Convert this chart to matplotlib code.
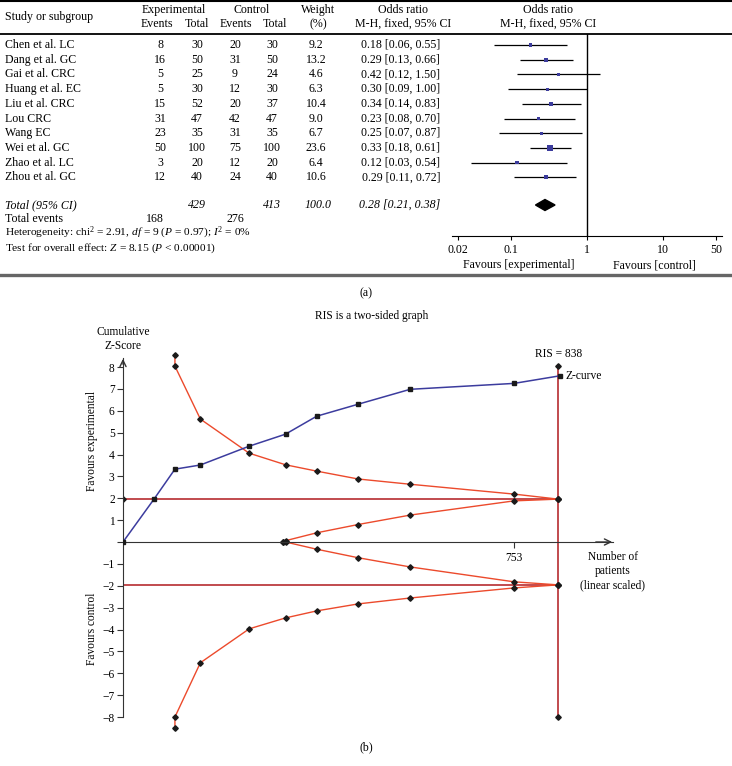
import numpy as np
import matplotlib
matplotlib.use('Agg')
import matplotlib.pyplot as plt
from matplotlib.patches import Polygon

plt.rcParams['font.family'] = ['Liberation Serif', 'DejaVu Serif']
plt.rcParams['mathtext.fontset'] = 'custom'
plt.rcParams['mathtext.rm'] = 'Liberation Serif'
plt.rcParams['mathtext.it'] = 'Liberation Serif:italic'

#%%# ------------------------ data (a) forest plot
studies = ['Chen et al. LC', 'Dang et al. GC', 'Gai et al. CRC', 'Huang et al. EC', 'Liu et al. CRC',
           'Lou CRC', 'Wang EC', 'Wei et al. GC', 'Zhao et al. LC', 'Zhou et al. GC']
exp_events = [8, 16, 5, 5, 15, 31, 23, 50, 3, 12]
exp_total = [30, 50, 25, 30, 52, 47, 35, 100, 20, 40]
ctl_events = [20, 31, 9, 12, 20, 42, 31, 75, 12, 24]
ctl_total = [30, 50, 24, 30, 37, 47, 35, 100, 20, 40]
weight = [9.2, 13.2, 4.6, 6.3, 10.4, 9.0, 6.7, 23.6, 6.4, 10.6]
odds = [0.18, 0.29, 0.42, 0.30, 0.34, 0.23, 0.25, 0.33, 0.12, 0.29]
ci_lo = [0.06, 0.13, 0.12, 0.09, 0.14, 0.08, 0.07, 0.18, 0.03, 0.11]
ci_hi = [0.55, 0.66, 1.50, 1.00, 0.83, 0.70, 0.87, 0.61, 0.54, 0.72]
pooled = [0.28, 0.21, 0.38]  # OR, lower, upper
or_ticks = [0.02, 0.1, 1, 10, 50]
or_ticklabels = ['0.02', '0.1', '1', '10', '50']

#%%# ------------------------ data (b) trial sequential analysis
cum_n = [0, 60, 100, 149, 243, 313, 373, 453, 553, 753, 842]
z_curve = [0, 1.97, 3.33, 3.52, 4.38, 4.93, 5.75, 6.30, 6.98, 7.25, 7.60]
bound_n = [100, 100, 149, 243, 313, 373, 453, 553, 753, 838]
upper_bound = [8.54, 8.04, 5.62, 4.06, 3.53, 3.24, 2.88, 2.64, 2.19, 1.96]
lower_bound = [-8.5, -8.0, -5.52, -3.97, -3.47, -3.15, -2.83, -2.56, -2.10, -1.96]
fut_n = [308, 313, 373, 453, 553, 753, 838]
fut_upper = [0.0, 0.06, 0.42, 0.80, 1.23, 1.88, 1.96]
fut_lower = [0.0, 0.0, -0.33, -0.72, -1.14, -1.82, -1.96]
ris = 838
z_crit = 1.96
ris_span = [8.04, -8.0]
z_ticks = list(range(-8, 9))

W, H = 732, 766
fig = plt.figure(figsize=(W / 100, H / 100), dpi=100)

def box(x0, y0, x1, y1):
    # pixel box -> figure fraction
    return [x0 / W, 1 - y1 / H, (x1 - x0) / W, (y1 - y0) / H]

# overlay for the table text and rules
ax0 = fig.add_axes([0, 0, 1, 1])
ax0.set_xlim(0, W)
ax0.set_ylim(H, 0)
ax0.axis('off')

fs = 8.6
fs2 = 8.3
ax0.plot([0, W], [1, 1], color='black', lw=1.5)
ax0.plot([0, W], [34, 34], color='black', lw=1.3)
ax0.plot([0, W], [275, 275], color='#666666', lw=2.4)

# header
ax0.text(5, 17, 'Study or subgroup', fontsize=fs, va='center')
ax0.text(174, 10, 'Experimental', fontsize=fs, va='center', ha='center')
ax0.text(157, 24, 'Events', fontsize=fs, va='center', ha='center')
ax0.text(197, 24, 'Total', fontsize=fs, va='center', ha='center')
ax0.text(252, 10, 'Control', fontsize=fs, va='center', ha='center')
ax0.text(236, 24, 'Events', fontsize=fs, va='center', ha='center')
ax0.text(275, 24, 'Total', fontsize=fs, va='center', ha='center')
ax0.text(318, 10, 'Weight', fontsize=fs, va='center', ha='center')
ax0.text(318, 24, '(%)', fontsize=fs, va='center', ha='center')
ax0.text(403, 10, 'Odds ratio', fontsize=fs, va='center', ha='center')
ax0.text(403, 24, 'M-H, fixed, 95% CI', fontsize=fs, va='center', ha='center')
ax0.text(548, 10, 'Odds ratio', fontsize=fs, va='center', ha='center')
ax0.text(548, 24, 'M-H, fixed, 95% CI', fontsize=fs, va='center', ha='center')

row_y = 45 + 14.7 * np.arange(len(studies))
tot_y = 205
for i, name in enumerate(studies):
    y = row_y[i]
    ax0.text(5, y, name, fontsize=fs, va='center')
    ax0.text(160, y, str(exp_events[i]), fontsize=fs, va='center', ha='center')
    ax0.text(197, y, str(exp_total[i]), fontsize=fs, va='center', ha='center')
    ax0.text(235, y, str(ctl_events[i]), fontsize=fs, va='center', ha='center')
    ax0.text(272, y, str(ctl_total[i]), fontsize=fs, va='center', ha='center')
    ax0.text(316, y, '%.1f' % weight[i], fontsize=fs, va='center', ha='center')
    ax0.text(440, y, '%.2f [%.2f, %.2f]' % (odds[i], ci_lo[i], ci_hi[i]), fontsize=fs, va='center', ha='right')

ax0.text(5, tot_y, 'Total (95% CI)', fontsize=fs, va='center', style='italic')
ax0.text(197, tot_y, str(sum(exp_total)), fontsize=fs, va='center', ha='center', style='italic')
ax0.text(272, tot_y, str(sum(ctl_total)), fontsize=fs, va='center', ha='center', style='italic')
ax0.text(318, tot_y, '%.1f' % sum(weight), fontsize=fs, va='center', ha='center', style='italic')
ax0.text(440, tot_y, '%.2f [%.2f, %.2f]' % tuple(pooled), fontsize=fs, va='center', ha='right', style='italic')
ax0.text(5, 219, 'Total events', fontsize=fs, va='center')
ax0.text(155, 219, str(sum(exp_events)), fontsize=fs, va='center', ha='center')
ax0.text(235, 219, str(sum(ctl_events)), fontsize=fs, va='center', ha='center')
ax0.text(5, 236, r'Heterogeneity: chi$^{2}$ = 2.91, $df$ = 9 ($P$ = 0.97); $I^{2}$ = 0%', fontsize=fs - 0.4, va='baseline')
ax0.text(5, 251, r'Test for overall effect: $Z$ = 8.15 ($P$ < 0.00001)', fontsize=fs - 0.4, va='baseline')
ax0.text(519, 265, 'Favours [experimental]', fontsize=fs, va='center', ha='center')
ax0.text(654, 265, 'Favours [control]', fontsize=fs, va='center', ha='center')
ax0.text(366, 293, '(a)', fontsize=fs, va='center', ha='center')

# forest plot
fa = fig.add_axes(box(452, 34, 722, 236))
fa.patch.set_alpha(0)
fa.set_xscale('log')
fa.set_xlim(10 ** ((452 - 587) / 76), 10 ** ((722 - 587) / 76))
fa.set_ylim(236, 34)
for s in ['top', 'left', 'right']:
    fa.spines[s].set_visible(False)
fa.set_yticks([])
fa.set_xticks(or_ticks)
fa.set_xticklabels(or_ticklabels)
fa.xaxis.set_minor_locator(matplotlib.ticker.NullLocator())
fa.tick_params(axis='x', direction='out', length=3, labelsize=fs, pad=3)
fa.axvline(1, color='black', lw=1)
fa.hlines(row_y, ci_lo, ci_hi, color='black', lw=0.9)
sizes = (np.sqrt(weight) * 1.2 * 0.72) ** 2
fa.scatter(odds, row_y, marker='s', s=sizes, color='#3b3b9c', zorder=3, linewidths=0)
fa.add_patch(Polygon([(pooled[1], tot_y), (pooled[0], tot_y - 5.5), (pooled[2], tot_y), (pooled[0], tot_y + 5.5)],
                     closed=True, color='black'))

#%%# ------------------------ (b) TSA graph
ax0.text(372, 316, 'RIS is a two-sided graph', fontsize=fs2, va='center', ha='center')
ax0.text(123, 332, 'Cumulative', fontsize=fs2, va='center', ha='center')
ax0.text(123, 346, 'Z-Score', fontsize=fs2, va='center', ha='center')
ax0.text(92, 441, 'Favours experimental', fontsize=fs2, va='center', ha='center', rotation=90)
ax0.text(92, 629, 'Favours control', fontsize=fs2, va='center', ha='center', rotation=90)
ax0.text(613, 557, 'Number of', fontsize=fs2, va='center', ha='center')
ax0.text(613, 571, 'patients', fontsize=fs2, va='center', ha='center')
ax0.text(613, 585, '(linear scaled)', fontsize=fs2, va='center', ha='center')
ax0.text(366, 747, '(b)', fontsize=fs, va='center', ha='center')

kx = 391 / 753.0   # px per patient
ky = 350 / 16.0    # px per z unit
ta = fig.add_axes(box(123, 350, 616, 735))
ta.patch.set_alpha(0)
ta.set_xlim(0, 493 / kx)
ta.set_ylim((542 - 735) / ky, (542 - 350) / ky)
axc = '#333333'
for s in ['top', 'right']:
    ta.spines[s].set_visible(False)
ta.spines['left'].set_bounds(-8, 8.4)
ta.spines['bottom'].set_position(('data', 0))
ta.spines['bottom'].set_bounds(0, 490 / kx)
ta.spines['left'].set_color(axc)
ta.spines['bottom'].set_color(axc)
ta.set_yticks(z_ticks)
ta.set_yticklabels([('' if v == 0 else str(v).replace('-', '\u2212')) for v in z_ticks])
ta.set_xticks([753])
ta.set_xticklabels(['753'])
ta.tick_params(axis='both', direction='out', length=4, labelsize=fs2, colors=axc, labelcolor='black', pad=2)
ta.tick_params(axis='x', pad=3)
ta.annotate('', xy=(0, (542 - 356) / ky), xytext=(0, 8.0), annotation_clip=False,
            arrowprops=dict(arrowstyle='->,head_length=0.45,head_width=0.22', color=axc, lw=1))
ta.annotate('', xy=(492 / kx, 0), xytext=(470 / kx, 0), annotation_clip=False,
            arrowprops=dict(arrowstyle='->,head_length=0.45,head_width=0.22', color=axc, lw=1))

red = '#ec4a2c'
dred = '#b01a1e'
blue = '#3c3c9e'
mk = dict(marker='D', ms=2.8, mfc='#1a1a1a', mec='#1a1a1a')
ta.plot([0, ris], [z_crit, z_crit], color=dred, lw=1.1, **mk)
ta.plot([0, ris], [-z_crit, -z_crit], color=dred, lw=1.1)
ta.plot([ris], [-z_crit], ls='none', **mk)
ta.plot([ris, ris], ris_span, color=dred, lw=1.1, **mk)
ta.plot(bound_n, upper_bound, color=red, lw=1, **mk)
ta.plot(bound_n, lower_bound, color=red, lw=1, **mk)
ta.plot(fut_n, fut_upper, color=red, lw=1, **mk)
ta.plot(fut_n, fut_lower, color=red, lw=1, **mk)
ta.plot(cum_n, z_curve, color=blue, lw=1.1, marker='s', ms=2.8, mfc='#1a1a1a', mec='#1a1a1a', zorder=4)
ta.text(ris, (542 - 354) / ky, 'RIS = %d' % ris, fontsize=fs2, ha='center', va='center')
ta.text(cum_n[-1] + 10, z_curve[-1], 'Z-curve', fontsize=fs2, ha='left', va='center')

fig.savefig('out.png', dpi=100)
